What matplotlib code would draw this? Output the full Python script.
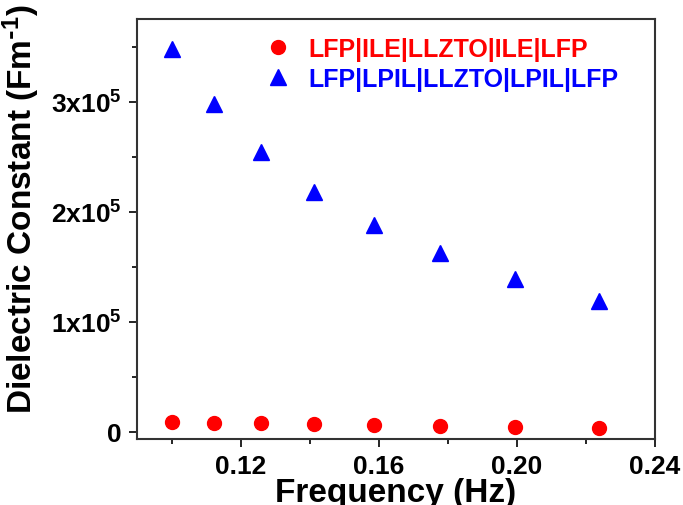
import numpy as np
import matplotlib
matplotlib.use('Agg')
import matplotlib.pyplot as plt
from matplotlib.ticker import FixedLocator, FuncFormatter

# data
freq = [0.1000, 0.1122, 0.1259, 0.1413, 0.1585, 0.1778, 0.1995, 0.2239]
eps_ile = [9100, 8200, 7300, 6400, 5500, 4900, 4300, 3600]
eps_lpil = [348000, 298000, 254000, 218000, 188000, 162000, 139000, 119000]

label_ile = "LFP|ILE|LLZTO|ILE|LFP"
label_lpil = "LFP|LPIL|LLZTO|LPIL|LFP"

plt.rcParams['font.family'] = ['Liberation Sans', 'DejaVu Sans']
plt.rcParams['font.weight'] = 'bold'
plt.rcParams['mathtext.default'] = 'regular'

fig = plt.figure(figsize=(6.83, 5.06), dpi=100)
ax = fig.add_axes([0.2006, 0.130, 0.7584, 0.830])

ax.plot(freq, eps_ile, 'o', color='#ff0000', markersize=10, label=label_ile)
ax.plot(freq, eps_lpil, '^', color='#0000ff', markersize=11, label=label_lpil)

ax.set_xlim(0.09, 0.24)
ax.set_ylim(-7000, 375000)

ax.xaxis.set_major_locator(FixedLocator([0.12, 0.16, 0.20, 0.24]))
ax.xaxis.set_minor_locator(FixedLocator([0.10, 0.14, 0.18, 0.22]))
ax.xaxis.set_major_formatter(FuncFormatter(lambda v, p: f"{v:.2f}"))
ax.yaxis.set_major_locator(FixedLocator([0, 1e5, 2e5, 3e5]))
ax.yaxis.set_minor_locator(FixedLocator([0.5e5, 1.5e5, 2.5e5, 3.5e5]))
ax.yaxis.set_major_formatter(FuncFormatter(
    lambda v, p: "0" if v == 0 else r"%dx10$^{5}$" % round(v / 1e5)))

ax.tick_params(axis='both', which='major', direction='out', length=6,
               width=1.2, labelsize=19, pad=5)
ax.tick_params(axis='both', which='minor', direction='out', length=3.5, width=1.2)
for s in ax.spines.values():
    s.set_linewidth(1.5)
    s.set_color('#333333')

ax.set_xlabel("Frequency (Hz)", fontsize=24, fontweight='bold', labelpad=-1)
ax.set_ylabel(r"Dielectric Constant (Fm$^{\text{-}1}$)", fontsize=24,
              fontweight='bold')
ax.yaxis.set_label_coords(-0.183, 0.55)

leg = ax.legend(loc='upper left', bbox_to_anchor=(0.21, 1.0), frameon=False,
                fontsize=18, handletextpad=0.6, labelspacing=0.25,
                borderaxespad=0.3, handlelength=1.2,
                labelcolor='markerfacecolor')
for t in leg.get_texts():
    t.set_fontweight('bold')

fig.savefig('out.png', dpi=100)
